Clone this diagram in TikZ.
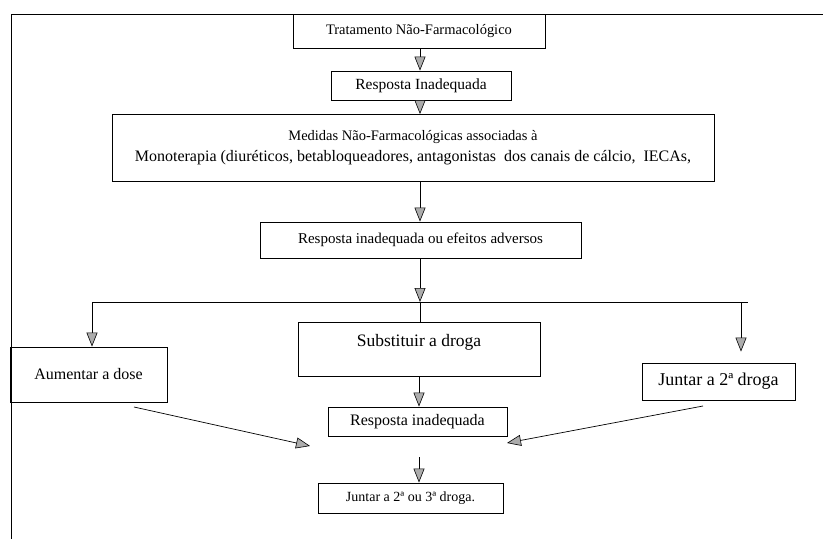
\documentclass[tikz,border=0pt]{standalone}
\usepackage{fontspec}
\setmainfont{Liberation Serif}
\usetikzlibrary{arrows.meta,calc}

\newcommand{\tsize}[1]{\fontsize{#1}{21}\selectfont}

\tikzset{
  scatola/.style={draw, line width=0.9pt, inner sep=0pt, align=center},
  linea/.style={line width=0.7pt},
  freccia/.style={line width=0.7pt,
    -{Triangle[length=14pt,width=11pt,fill=gray!65,line width=0.6pt]}}
}

\begin{document}
\begin{tikzpicture}[x=1pt,y=-1pt]
    \useasboundingbox (0,0) rectangle (823,539);

    % cornice
    \draw[linea] (823,14) -- (11,14) -- (11,539);

    % blocchi centrali
    \node[scatola, minimum width=252pt, minimum height=34pt] (tratamento) at (419,31)
        {\tsize{14.5}Tratamento Não-Farmacológico};
    \node[scatola, minimum width=180pt, minimum height=29pt] (resposta) at (421,85.5)
        {\tsize{15.5}Resposta Inadequada};
    \node[scatola, minimum width=602pt, minimum height=67pt, font=\tsize{16}] (medidas) at (413,148)
        {{\tsize{14.5}Medidas Não-Farmacológicas associadas à}\\
         Monoterapia (diuréticos, betabloqueadores, antagonistas\ \ dos canais de cálcio,\ \ IECAs,};
    \node[scatola, minimum width=321pt, minimum height=36pt] (adversos) at (420.5,240)
        {\tsize{15}Resposta inadequada ou efeitos adversos};

    % tre alternative
    \node[scatola, minimum width=157pt, minimum height=55pt] (aumentar) at (88.5,374.5)
        {\tsize{16}Aumentar a dose};
    \node[scatola, minimum width=242pt, minimum height=54pt] (substituir) at (419,349) {};
    \node (testoSubst) at (419,342) {\tsize{17.5}Substituir a droga};
    \node[scatola, minimum width=153pt, minimum height=37pt] (juntar) at (718.5,381.5)
        {\tsize{18}Juntar a 2ª droga};

    % blocchi finali
    \node[scatola, minimum width=179pt, minimum height=29pt] (resposta2) at (417.5,421.5)
        {\tsize{16}Resposta inadequada};
    \node[scatola, minimum width=185pt, minimum height=30pt] (juntar3) at (410.5,498)
        {\tsize{14}Juntar a 2ª ou 3ª droga.};

    % ramificazione
    \coordinate (ramo) at (420,302);
    \coordinate (ramoSx) at (92,302);
    \coordinate (ramoDx) at (748,302);
    \coordinate (ramoGiu) at (741,302);
    \coordinate (sxA) at (134,407);
    \coordinate (sxB) at (310,446);
    \coordinate (dxA) at (703,406);
    \coordinate (dxB) at (507,443);

    % frecce
    \draw[freccia] (tratamento.south -| ramo) -- (resposta.north -| ramo);
    \draw[freccia] (resposta.south -| ramo) -- (medidas.north -| ramo);
    \draw[freccia] (medidas.south -| ramo) -- (adversos.north -| ramo);
    \draw[freccia] (adversos.south -| ramo) -- (ramo);
    \draw[linea] (ramoSx) -- (ramoDx);
    \draw[linea] (ramo) -- (substituir.north -| ramo);
    \draw[freccia] (ramoSx) -- (ramoSx |- aumentar.north);
    \draw[freccia, shorten >=11pt] (ramoGiu) -- (ramoGiu |- juntar.north);
    \draw[freccia] (substituir.south) -- (substituir.south |- resposta2.north);
    \draw[freccia] (sxA) -- (sxB);
    \draw[freccia] (dxA) -- (dxB);
    \draw[freccia, shorten <=21pt] (resposta2.south -| substituir) -- (juntar3.north -| substituir);
\end{tikzpicture}
\end{document}
